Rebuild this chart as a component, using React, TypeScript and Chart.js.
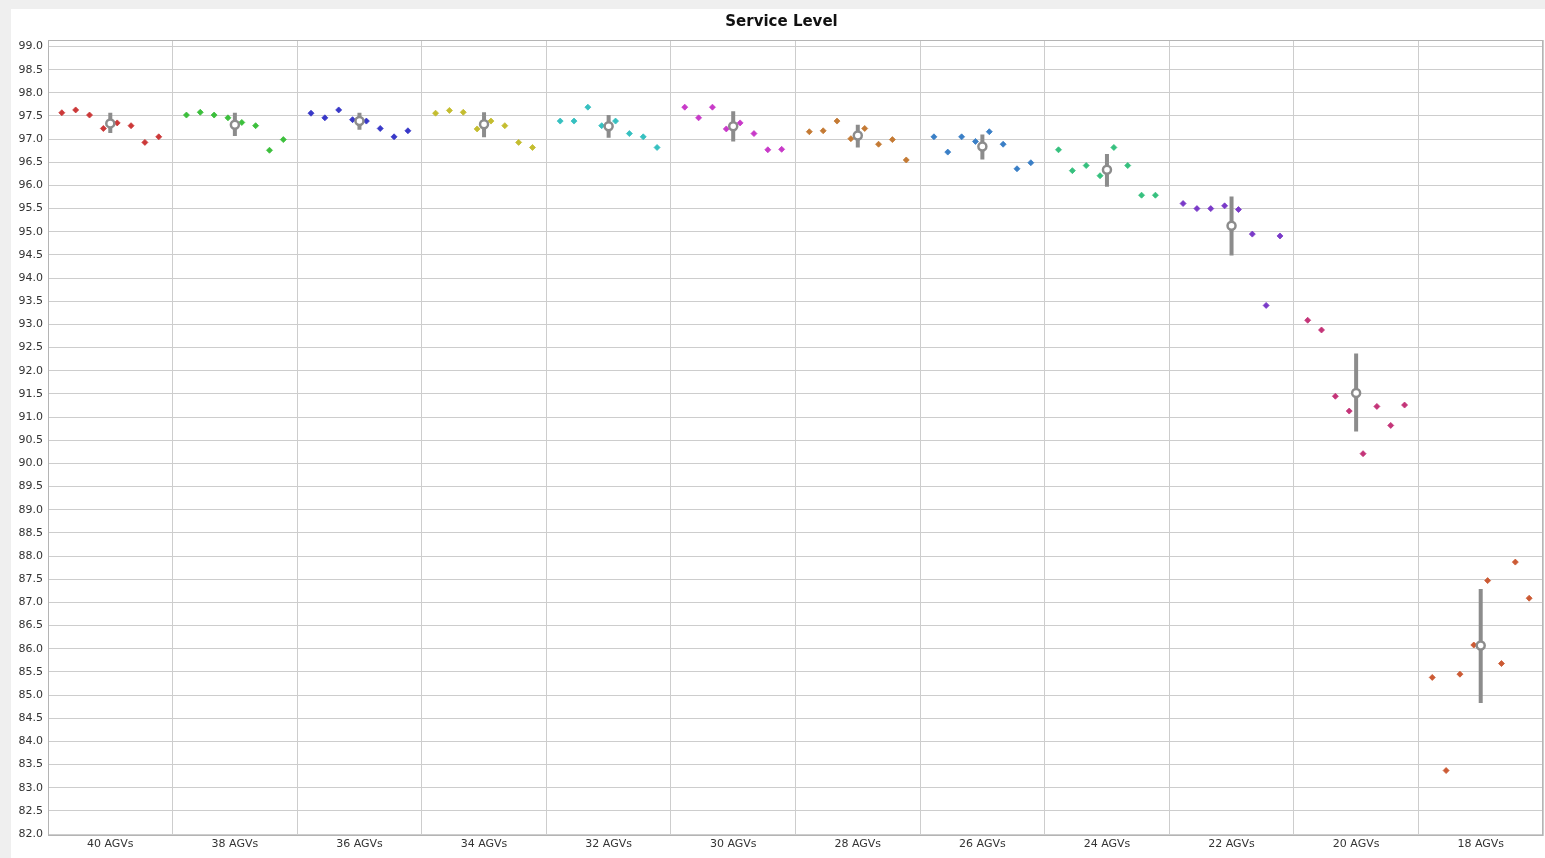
import React, { useEffect, useRef } from 'react';
import { Chart, registerables } from 'chart.js';

Chart.register(...registerables);

const categories = ['40 AGVs', '38 AGVs', '36 AGVs', '34 AGVs', '32 AGVs', '30 AGVs', '28 AGVs', '26 AGVs', '24 AGVs', '22 AGVs', '20 AGVs', '18 AGVs'];

const runs40 = [97.57, 97.63, 97.52, 97.23, 97.35, 97.29, 96.93, 97.05];
const runs38 = [97.52, 97.58, 97.52, 97.46, 97.36, 97.29, 96.76, 96.99];
const runs36 = [97.56, 97.46, 97.63, 97.42, 97.39, 97.23, 97.05, 97.18];
const runs34 = [97.56, 97.62, 97.58, 97.22, 97.39, 97.29, 96.93, 96.82];
const runs32 = [97.39, 97.39, 97.69, 97.29, 97.39, 97.12, 97.05, 96.82];
const runs30 = [97.69, 97.46, 97.69, 97.22, 97.35, 97.12, 96.77, 96.78];
const runs28 = [97.16, 97.18, 97.39, 97.01, 97.23, 96.89, 96.99, 96.55];
const runs26 = [97.05, 96.72, 97.05, 96.95, 97.16, 96.89, 96.36, 96.49];
const runs24 = [96.77, 96.32, 96.43, 96.21, 96.82, 96.43, 95.79, 95.79];
const runs22 = [95.61, 95.50, 95.50, 95.56, 95.48, 94.95, 93.41, 94.91];
const runs20 = [93.09, 92.88, 91.45, 91.13, 90.21, 91.23, 90.82, 91.26];
const runs18 = [85.38, 83.37, 85.45, 86.08, 87.47, 85.68, 87.87, 87.09];

const means = [97.34, 97.31, 97.39, 97.32, 97.28, 97.28, 97.08, 96.84, 96.34, 95.13, 91.52, 86.07];
const ciLow = [97.13, 97.07, 97.20, 97.04, 97.03, 96.95, 96.82, 96.56, 95.97, 94.49, 90.69, 84.83];
const ciHigh = [97.57, 97.57, 97.57, 97.58, 97.52, 97.60, 97.31, 97.10, 96.68, 95.76, 92.37, 87.29];

const yTicks = Array.from({ length: 35 }, (_, i) => 82 + i * 0.5);

const allRuns = [runs40, runs38, runs36, runs34, runs32, runs30, runs28, runs26, runs24, runs22, runs20, runs18];
const colors = ['#cc3838', '#3cbf3c', '#3838c8', '#c4bd30', '#36c0c0', '#c83ac8', '#c47a34', '#3a7fc6', '#36c07e', '#7a3ac8', '#c43478', '#cc5a34'];

const framePlugin = {
  id: 'frame',
  afterLayout(chart: any) {
    if (chart.titleBlock) {
      chart.titleBlock.left = 9;
    }
  },
  afterDraw(chart: any) {
    const { ctx, chartArea } = chart;
    ctx.save();
    ctx.strokeStyle = '#b4b4b4';
    ctx.lineWidth = 1;
    ctx.strokeRect(Math.round(chartArea.left) + 0.5, Math.round(chartArea.top) + 0.5, Math.round(chartArea.right - chartArea.left) - 1, Math.round(chartArea.bottom - chartArea.top) - 1);
    ctx.restore();
  },
};

export default function App() {
  const ref = useRef<HTMLCanvasElement | null>(null);

  useEffect(() => {
    if (!ref.current) return;
    const slots = 8;
    const runDatasets = allRuns.map((vals, ci) => ({
      type: 'scatter' as const,
      data: vals.map((v, k) => ({ x: ci + (k - (slots - 1) / 2) / 9, y: v })),
      pointStyle: 'rectRot',
      pointRadius: 3,
      pointBorderWidth: 0.8,
      backgroundColor: colors[ci],
      borderColor: colors[ci],
      order: 2,
    }));
    const barData: any[] = [];
    ciLow.forEach((lo, i) => {
      barData.push({ x: i, y: lo }, { x: i, y: ciHigh[i] }, { x: i, y: null });
    });
    const chart = new Chart(ref.current, {
      type: 'scatter',
      data: {
        datasets: [
          ...runDatasets,
          {
            type: 'line',
            data: barData,
            showLine: true,
            spanGaps: false,
            borderColor: '#8c8c8c',
            borderWidth: 4,
            borderCapStyle: 'butt',
            pointRadius: 0,
            fill: false,
            order: 1,
          } as any,
          {
            type: 'scatter',
            data: means.map((m, i) => ({ x: i, y: m })),
            pointStyle: 'circle',
            pointRadius: 4,
            pointBorderWidth: 2.5,
            borderColor: '#8c8c8c',
            backgroundColor: '#ffffff',
            order: 0,
          } as any,
        ],
      },
      options: {
        animation: false,
        responsive: false,
        maintainAspectRatio: false,
        layout: { autoPadding: false, padding: { left: 0, right: 2, top: 0, bottom: 0 } },
        plugins: {
          legend: { display: false },
          tooltip: { enabled: false },
          title: {
            display: true,
            text: 'Service Level',
            color: '#111',
            font: { family: 'DejaVu Sans', size: 15, weight: 'bold' },
            padding: { top: 4, bottom: 9 },
          },
        },
        scales: {
          x: {
            type: 'linear',
            min: -0.5,
            max: 11.5,
            afterBuildTicks: (scale: any) => {
              const t: any[] = [];
              for (let i = 0; i <= 24; i++) t.push({ value: -0.5 + i * 0.5 });
              scale.ticks = t;
            },
            afterFit: (scale: any) => {
              scale.height = 22;
              scale.paddingLeft = 0;
              scale.paddingRight = 0;
            },
            grid: {
              drawTicks: false,
              color: (c: any) => (Number.isInteger(c.tick?.value) ? 'rgba(0,0,0,0)' : '#cdcdcd'),
            },
            border: { display: false },
            ticks: {
              autoSkip: false,
              maxRotation: 0,
              minRotation: 0,
              padding: 2,
              color: '#333',
              font: { family: 'DejaVu Sans', size: 11 },
              callback: (v: any) => (Number.isInteger(v) ? categories[v] : ''),
            },
          },
          y: {
            type: 'linear',
            min: 81.957,
            max: 99.14,
            afterBuildTicks: (scale: any) => {
              scale.ticks = yTicks.map((v) => ({ value: v }));
            },
            afterFit: (scale: any) => {
              scale.width = 37;
              scale.paddingTop = 0;
              scale.paddingBottom = 0;
            },
            grid: { drawTicks: false, color: '#cdcdcd' },
            border: { display: false },
            ticks: {
              padding: 5,
              color: '#333',
              font: { family: 'DejaVu Sans', size: 11 },
              callback: (v: any) => Number(v).toFixed(1),
            },
          },
        },
      } as any,
      plugins: [framePlugin],
    });
    return () => chart.destroy();
  }, []);

  return (
    <div style={{ position: 'fixed', left: 0, top: 0, width: 1545, height: 858, background: '#efefef' }}>
      <div style={{ position: 'absolute', left: 11, top: 9, width: 1534, height: 849, background: '#ffffff' }}>
        <canvas ref={ref} width={1534} height={849} style={{ display: 'block', width: 1534, height: 849 }} />
      </div>
    </div>
  );
}
